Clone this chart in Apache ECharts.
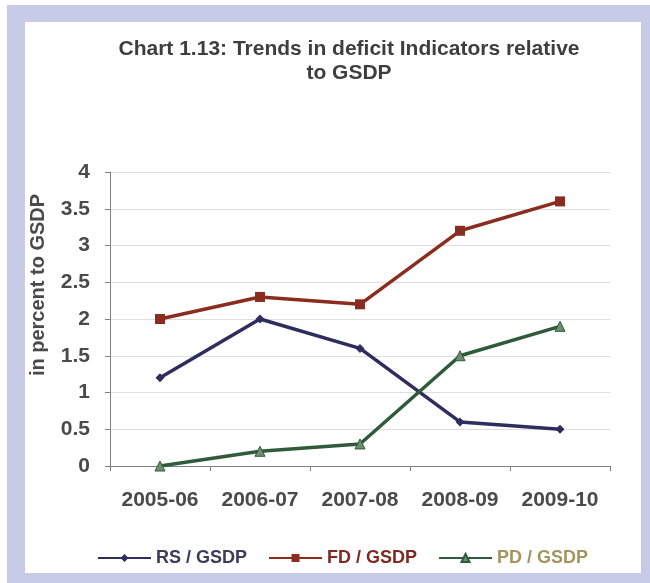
<!DOCTYPE html>
<html>
<head>
<meta charset="utf-8">
<style>
  html, body { margin: 0; padding: 0; background: #ffffff; }
  #chart { width: 650px; height: 583px; }
</style>
<script src="https://cdn.jsdelivr.net/npm/echarts@6/dist/echarts.min.js"></script>
</head>
<body>
<div id="chart"></div>
<script>
// Deficit indicators as a share of GSDP (per cent)
const years = ['2005-06', '2006-07', '2007-08', '2008-09', '2009-10'];
const rsGsdp = [1.2, 2.0, 1.6, 0.6, 0.5];
const fdGsdp = [2.0, 2.3, 2.2, 3.2, 3.6];
const pdGsdp = [0.0, 0.2, 0.3, 1.5, 1.9];
const seriesNames = ['RS / GSDP', 'FD / GSDP', 'PD / GSDP'];

const chart = echarts.init(document.getElementById('chart'), null, { renderer: 'canvas' });

const font = 'Arial, "Liberation Sans", sans-serif';

chart.setOption({
  backgroundColor: 'transparent',
  animation: false,
  graphic: [
    { type: 'rect', z: -10, shape: { x: 7, y: 5, width: 643, height: 578 }, style: { fill: '#c8cbe8' } },
    { type: 'rect', z: -9, shape: { x: 25, y: 22, width: 616, height: 551 }, style: { fill: '#ffffff' } }
  ],
  title: {
    text: 'Chart 1.13: Trends in deficit Indicators relative\nto GSDP',
    left: 344,
    top: 32,
    textAlign: 'center',
    textStyle: {
      fontFamily: font,
      fontSize: 21,
      fontWeight: 'bold',
      color: '#3e3e3e',
      lineHeight: 24
    }
  },
  legend: {
    data: seriesNames.map((n, i) => ({
      name: n,
      textStyle: { color: ['#3b3b5a', '#7c2a22', '#a39562'][i] }
    })),
    left: 92,
    top: 544,
    itemWidth: 53,
    itemHeight: 10,
    itemGap: 21,
    textStyle: { fontFamily: font, fontSize: 18, fontWeight: 'bold' }
  },
  grid: { left: 110, right: 40, top: 172, bottom: 117, containLabel: false },
  xAxis: {
    type: 'category',
    data: years,
    boundaryGap: true,
    axisLine: { lineStyle: { color: '#808080', width: 1 } },
    axisTick: { show: true, length: 5, lineStyle: { color: '#808080' } },
    axisLabel: {
      interval: 0,
      fontFamily: font, fontSize: 21, fontWeight: 'bold', color: '#4a4a4a', margin: 24
    },
    splitLine: { show: false }
  },
  yAxis: {
    type: 'value',
    min: 0,
    max: 4,
    interval: 0.5,
    name: 'in percent to GSDP',
    nameLocation: 'middle',
    nameGap: 62,
    nameRotate: 90,
    nameTextStyle: {
      fontFamily: font, fontSize: 20, fontWeight: 'bold', color: '#4a4a4a',
      padding: [0, 0, 0, 68]
    },
    axisLine: { show: true, lineStyle: { color: '#808080', width: 1 } },
    axisTick: { show: true, length: 5, lineStyle: { color: '#808080' } },
    axisLabel: {
      fontFamily: font, fontSize: 21, fontWeight: 'bold', color: '#4a4a4a', margin: 20
    },
    splitLine: { show: true, lineStyle: { color: '#dedede', width: 1 } }
  },
  series: [
    {
      name: seriesNames[0], type: 'line', data: rsGsdp,
      symbol: 'diamond', symbolSize: 9,
      lineStyle: { color: '#2d2d5e', width: 3.5 },
      itemStyle: { color: '#2d2d5e' }
    },
    {
      name: seriesNames[1], type: 'line', data: fdGsdp,
      symbol: 'rect', symbolSize: 10,
      lineStyle: { color: '#8a2c1f', width: 3.5 },
      itemStyle: { color: '#8a2c1f' }
    },
    {
      name: seriesNames[2], type: 'line', data: pdGsdp,
      symbol: 'triangle', symbolSize: 10,
      lineStyle: { color: '#2f5a3b', width: 3.5 },
      itemStyle: { color: '#6f8e6f', borderColor: '#2f5a3b', borderWidth: 1 }
    }
  ]
});
</script>
</body>
</html>
